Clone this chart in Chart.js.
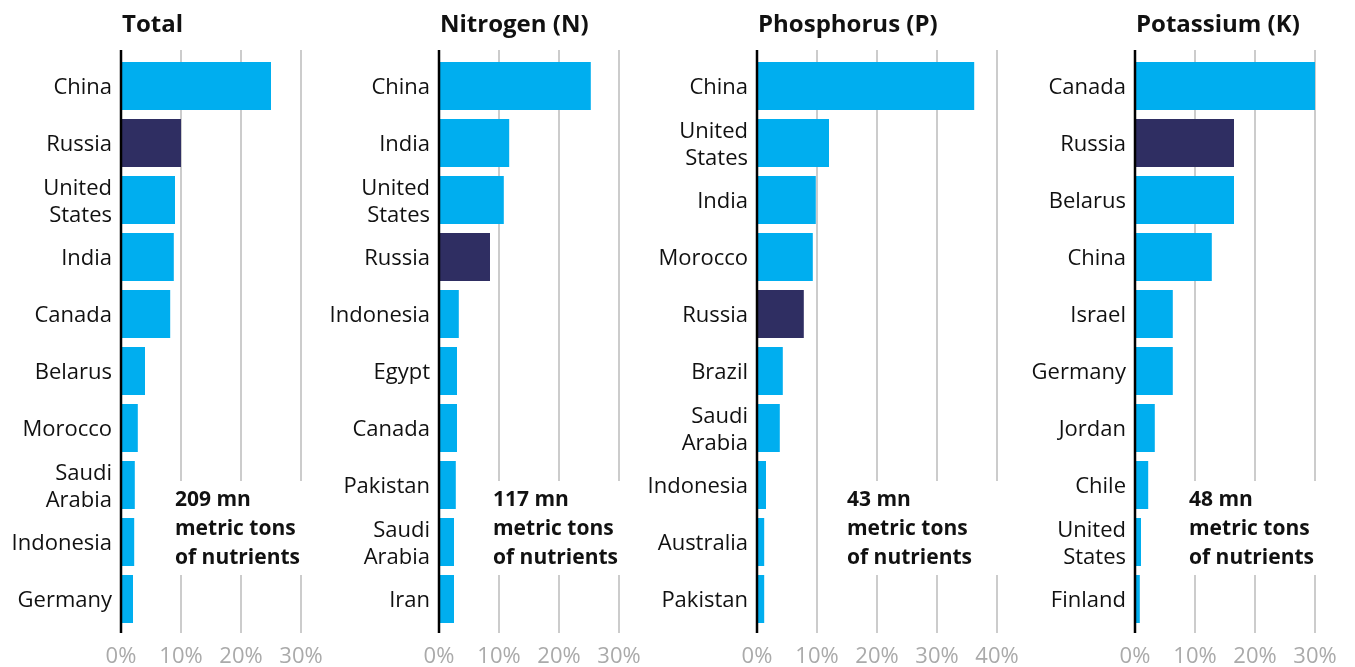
<!DOCTYPE html>
<html>
<head>
<meta charset="utf-8">
<script src="https://cdn.jsdelivr.net/npm/chart.js@4.4.0/dist/chart.umd.min.js"></script>
<style>
  body { margin: 0; background: #fff; }
  #wrap { position: relative; width: 1355px; height: 667px; overflow: hidden; }
  #wrap canvas { position: absolute; top: 0; }
</style>
</head>
<body>
<div id="wrap">
  <canvas id="c0"></canvas>
  <canvas id="c1"></canvas>
  <canvas id="c2"></canvas>
  <canvas id="c3"></canvas>
</div>
<script>
// share of world fertilizer production, %
const totalLabels = ["China", "Russia", ["United", "States"], "India", "Canada", "Belarus", "Morocco", ["Saudi", "Arabia"], "Indonesia", "Germany"];
const totalValues = [25, 10, 9, 8.8, 8.2, 4, 2.8, 2.3, 2.2, 2];

const nitrogenLabels = ["China", "India", ["United", "States"], "Russia", "Indonesia", "Egypt", "Canada", "Pakistan", ["Saudi", "Arabia"], "Iran"];
const nitrogenValues = [25.3, 11.7, 10.8, 8.5, 3.3, 3.0, 3.0, 2.8, 2.5, 2.5];

const phosphorusLabels = ["China", ["United", "States"], "India", "Morocco", "Russia", "Brazil", ["Saudi", "Arabia"], "Indonesia", "Australia", "Pakistan"];
const phosphorusValues = [36.2, 12, 9.8, 9.3, 7.8, 4.3, 3.8, 1.5, 1.2, 1.2];

const potassiumLabels = ["Canada", "Russia", "Belarus", "China", "Israel", "Germany", "Jordan", "Chile", ["United", "States"], "Finland"];
const potassiumValues = [30, 16.5, 16.5, 12.8, 6.3, 6.3, 3.3, 2.2, 1.0, 0.8];

const titles = ["Total", "Nitrogen (N)", "Phosphorus (P)", "Potassium (K)"];
const amounts = ["209 mn", "117 mn", "43 mn", "48 mn"];
const axisMax = [30, 30, 40, 30];

const BLUE = "#00aeef";
const NAVY = "#2f2e62";
const FONT = "'Open Sans', sans-serif";

const panels = [
  { labels: totalLabels, values: totalValues, left: 0, width: 337, axisW: 121, noteAt: 9 },
  { labels: nitrogenLabels, values: nitrogenValues, left: 325, width: 330, axisW: 114, noteAt: 9 },
  { labels: phosphorusLabels, values: phosphorusValues, left: 643, width: 390, axisW: 114, noteAt: 15 },
  { labels: potassiumLabels, values: potassiumValues, left: 1021, width: 330, axisW: 114, noteAt: 9 }
];

// gridlines run a bit past the bar area, note box hides them, axis line and title on top
const panelDecor = {
  id: "panelDecor",
  beforeDatasetsDraw(chart, args, opts) {
    const { ctx, chartArea: a, scales: { x } } = chart;
    ctx.save();
    ctx.strokeStyle = "#cccccc";
    ctx.lineWidth = 2;
    x.ticks.forEach(t => {
      if (t.value === 0) return;
      const px = Math.round(x.getPixelForValue(t.value));
      ctx.beginPath();
      ctx.moveTo(px, a.top - 7.5);
      ctx.lineTo(px, a.bottom + 5.5);
      ctx.stroke();
    });
    const nx = x.getPixelForValue(opts.noteAt);
    ctx.fillStyle = "#ffffff";
    ctx.fillRect(nx - 4, a.bottom - 146.5, a.right - nx + 10, 94);
    ctx.restore();
  },
  afterDatasetsDraw(chart, args, opts) {
    const { ctx, chartArea: a, scales: { x } } = chart;
    ctx.save();
    ctx.strokeStyle = "#000000";
    ctx.lineWidth = 2.5;
    ctx.beginPath();
    ctx.moveTo(a.left, a.top - 7.5);
    ctx.lineTo(a.left, a.bottom + 5.5);
    ctx.stroke();

    const nx = x.getPixelForValue(opts.noteAt);
    ctx.fillStyle = "#111111";
    ctx.font = "bold 21px " + FONT;
    ctx.textBaseline = "alphabetic";
    ctx.fillText(opts.amount, nx, a.bottom - 121.5);
    ctx.fillText("metric tons", nx, a.bottom - 92.5);
    ctx.fillText("of nutrients", nx, a.bottom - 63.5);

    ctx.font = "bold 24px " + FONT;
    ctx.fillText(opts.title, a.left + 1, 31.5);
    ctx.restore();
  }
};

panels.forEach((p, i) => {
  const canvas = document.getElementById("c" + i);
  canvas.width = p.width;
  canvas.height = 667;
  canvas.style.left = p.left + "px";
  const flat = p.labels.map(l => Array.isArray(l) ? l.join(" ") : l);

  new Chart(canvas.getContext("2d"), {
    type: "bar",
    data: {
      labels: p.labels,
      datasets: [{
        data: p.values,
        backgroundColor: flat.map(l => l === "Russia" ? NAVY : BLUE),
        barPercentage: 48 / 57,
        categoryPercentage: 1
      }]
    },
    plugins: [panelDecor],
    options: {
      indexAxis: "y",
      responsive: false,
      animation: false,
      layout: { padding: { top: 57.5, right: 36, left: 0, bottom: 0 } },
      plugins: {
        legend: { display: false },
        tooltip: { enabled: false },
        panelDecor: { title: titles[i], amount: amounts[i], noteAt: p.noteAt }
      },
      scales: {
        x: {
          min: 0,
          max: axisMax[i],
          afterFit: s => {
            s.height = 39.5;
            s.paddingLeft = 0;
            s.paddingRight = 0;
          },
          grid: { display: false, drawTicks: false },
          border: { display: false },
          ticks: {
            stepSize: 10,
            padding: 16,
            maxRotation: 0,
            autoSkip: false,
            color: "#aaaaaa",
            font: { family: FONT, size: 22 },
            callback: v => v + "%"
          }
        },
        y: {
          afterFit: s => { s.width = p.axisW; },
          grid: { display: false, drawTicks: false },
          border: { display: false },
          ticks: {
            padding: 9,
            labelOffset: 2,
            autoSkip: false,
            color: "#111111",
            font: { family: FONT, size: 22, lineHeight: 1.22 }
          }
        }
      }
    }
  });
});
</script>
</body>
</html>
